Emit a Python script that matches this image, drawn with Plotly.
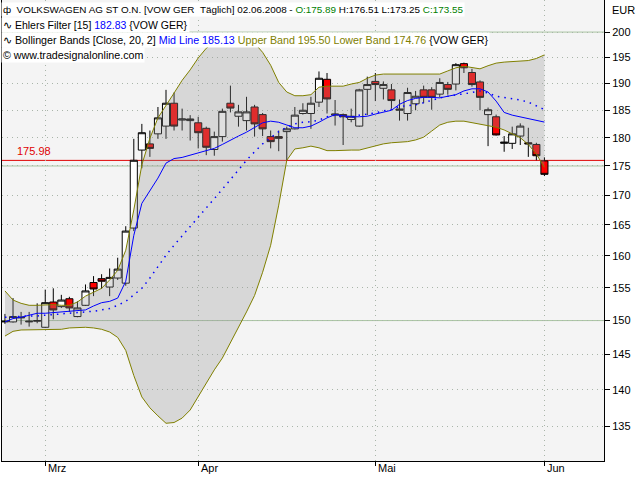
import math
import plotly.graph_objects as go

dates = [
    "2008-02-25", "2008-02-26", "2008-02-27", "2008-02-28", "2008-02-29",
    "2008-03-03", "2008-03-04", "2008-03-05", "2008-03-06", "2008-03-07",
    "2008-03-10", "2008-03-11", "2008-03-12", "2008-03-13", "2008-03-14",
    "2008-03-17", "2008-03-18", "2008-03-19", "2008-03-20",
    "2008-03-25", "2008-03-26", "2008-03-27", "2008-03-28", "2008-03-31",
    "2008-04-01", "2008-04-02", "2008-04-03", "2008-04-04",
    "2008-04-07", "2008-04-08", "2008-04-09", "2008-04-10", "2008-04-11",
    "2008-04-14", "2008-04-15", "2008-04-16", "2008-04-17", "2008-04-18",
    "2008-04-21", "2008-04-22", "2008-04-23", "2008-04-24", "2008-04-25",
    "2008-04-28", "2008-04-29", "2008-04-30",
    "2008-05-02", "2008-05-05", "2008-05-06", "2008-05-07", "2008-05-08", "2008-05-09",
    "2008-05-12", "2008-05-13", "2008-05-14", "2008-05-15", "2008-05-16",
    "2008-05-19", "2008-05-20", "2008-05-21", "2008-05-22", "2008-05-23",
    "2008-05-26", "2008-05-27", "2008-05-28", "2008-05-29", "2008-05-30",
    "2008-06-02",
]

opens = [149.8, 149.8, 150.4, 149.8, 149.9, 149.0, 152.8, 152.1, 153.3, 150.6,
         152.3, 155.8, 156.4, 155.1, 156.5, 155.7, 164.5, 177.8, 178.9, 180.7,
         182.1, 186.3, 183.2, 183.1, 182.7, 181.7, 177.9, 180.2, 186.3, 183.9,
         183.1, 185.6, 184.2, 180.2, 180.2, 181.1, 181.6, 184.4, 184.4, 186.5,
         190.8, 184.1, 184.2, 183.3, 182.1, 188.9, 190.4, 189.1, 188.8, 185.0,
         184.4, 186.2, 188.8, 188.8, 188.0, 189.8, 189.9, 193.8, 192.1, 190.3,
         184.2, 183.8, 179.0, 179.0, 180.3, 179.1, 178.8, 175.89]
highs = [151.0, 153.4, 151.3, 151.3, 152.6, 154.7, 154.9, 153.9, 153.6, 152.9,
         155.5, 156.8, 157.1, 158.0, 159.7, 164.8, 179.8, 182.5, 181.3, 185.6,
         188.8, 188.3, 185.3, 184.1, 183.8, 182.0, 181.1, 185.3, 189.6, 186.0,
         187.5, 186.0, 184.5, 181.3, 181.3, 182.0, 185.6, 186.3, 187.5, 192.3,
         192.0, 186.9, 184.4, 185.3, 189.0, 191.3, 192.0, 190.4, 189.9, 187.0,
         189.2, 188.6, 189.6, 189.3, 191.0, 190.3, 193.9, 194.0, 192.8, 190.6,
         185.5, 184.2, 180.3, 182.0, 182.6, 181.8, 179.1, 176.51]
lows = [149.5, 149.7, 149.4, 149.1, 149.6, 148.9, 150.2, 151.9, 151.3, 150.5,
        152.2, 153.7, 154.8, 153.7, 156.2, 155.3, 164.0, 174.6, 176.6, 179.8,
        179.8, 181.3, 181.3, 179.5, 178.1, 176.9, 176.8, 179.3, 184.6, 182.0,
        181.3, 180.2, 180.3, 178.1, 177.6, 176.0, 181.5, 184.2, 181.6, 185.6,
        184.4, 182.2, 178.7, 182.8, 182.0, 184.1, 186.7, 187.0, 185.3, 183.1,
        183.1, 185.0, 186.3, 185.1, 187.4, 187.9, 188.7, 192.0, 189.4, 185.0,
        178.5, 180.4, 177.5, 178.0, 178.7, 176.6, 176.0, 173.25]
closes = [149.9, 150.6, 150.5, 149.9, 150.0, 152.7, 151.6, 153.1, 151.9, 151.9,
          154.5, 154.8, 156.0, 156.6, 157.9, 164.0, 176.0, 180.9, 178.1, 183.6,
          186.3, 182.1, 183.4, 183.4, 180.9, 178.3, 180.2, 184.8, 185.4, 184.7,
          184.7, 182.5, 181.6, 179.3, 179.9, 181.6, 184.1, 185.0, 186.3, 191.0,
          187.1, 184.3, 183.8, 183.9, 188.8, 189.8, 189.8, 189.8, 186.8, 185.2,
          188.3, 187.6, 187.4, 187.4, 190.2, 188.9, 193.6, 193.0, 189.8, 187.4,
          185.1, 180.5, 179.2, 180.7, 182.1, 178.9, 176.8, 173.55]

ehlers = [149.8, 150.3, 150.5, 150.8, 151.1, 151.1, 151.2, 151.3, 151.4, 151.4,
          151.6, 152.2, 152.7, 152.9, 153.4, 156.0, 163.3, 168.6, 170.8, 172.9,
          175.5, 176.3, 176.5, 176.9, 177.3, 177.8, 178.1, 178.8, 179.6, 180.3,
          181.0, 181.9, 182.7, 183.0, 182.8, 182.3, 181.8, 181.8, 182.1, 182.8,
          183.6, 184.2, 184.0, 183.8, 183.8, 183.9, 184.3, 184.6, 185.0, 186.1,
          186.8, 187.2, 187.4, 187.4, 187.3, 187.6, 187.9, 188.6, 189.0, 189.0,
          188.4, 186.7, 184.6, 184.1, 183.8, 183.5, 183.2, 182.83]
bb_mid = [150.5, 150.6, 150.7, 150.7, 150.7, 150.8, 150.8, 151.0, 151.1, 151.2,
          151.3, 151.4, 151.6, 151.8, 152.3, 152.9, 153.9, 154.9, 156.5, 158.3,
          160.1, 161.7, 163.2, 164.6, 166.3, 167.8, 169.4, 171.0, 172.7, 174.4,
          176.0, 177.5, 178.9, 180.0, 181.1, 181.9, 182.5, 182.8, 182.9, 183.2,
          183.8, 184.1, 183.7, 183.7, 184.1, 184.3, 184.5, 184.9, 185.2, 185.7,
          185.8, 186.0, 186.4, 186.9, 187.3, 187.6, 187.8, 188.1, 188.3, 188.6,
          188.2, 187.6, 187.4, 187.2, 186.9, 186.5, 185.8, 185.13]
bb_upper = [154.5, 153.1, 152.6, 152.3, 152.3, 152.4, 152.4, 152.3, 152.3, 152.8,
            153.7, 154.3, 154.9, 156.2, 157.7, 160.9, 167.5, 175.2, 179.9, 183.6,
            186.0, 188.2, 190.6, 192.6, 194.9, 196.8, 198.0, 198.8, 199.2, 199.2,
            198.8, 197.8, 196.0, 193.5, 190.2, 188.4, 187.7, 187.7, 187.9, 189.3,
            189.5, 189.5, 189.5, 189.9, 190.2, 191.0, 191.6, 191.8, 191.8, 191.8,
            191.8, 191.8, 191.8, 191.8, 191.8, 192.4, 193.0, 193.3, 193.0, 192.8,
            193.4, 193.9, 194.1, 194.2, 194.3, 194.4, 194.8, 195.50]
bb_lower = [147.7, 148.4, 148.6, 148.6, 148.6, 148.6, 148.6, 148.7, 148.9, 149.0,
            149.0, 148.9, 148.7, 148.3, 147.5, 145.6, 142.0, 139.0, 137.5, 136.4,
            135.4, 135.5, 136.1, 137.2, 139.1, 140.9, 142.8, 144.5, 146.7, 148.9,
            151.3, 153.8, 157.4, 161.7, 168.3, 176.0, 178.0, 178.2, 178.5, 178.2,
            177.7, 177.7, 177.8, 177.8, 177.8, 178.2, 178.6, 178.9, 179.1, 179.2,
            179.3, 179.6, 180.1, 181.2, 182.3, 182.8, 183.0, 183.0, 182.7, 182.4,
            182.1, 181.9, 181.4, 180.7, 180.0, 178.8, 177.1, 174.76]

month_ticks = ["2008-03-03", "2008-04-01", "2008-05-02", "2008-06-02"]
month_labels = ["Mrz", "Apr", "Mai", "Jun"]
y_ticks = [135, 140, 145, 150, 155, 160, 165, 170, 175, 180, 185, 190, 195, 200]
ref_lines = [150, 175, 200]
last_marker = 175.98

FONT = "Liberation Sans"
OLIVE = "#808000"
BLUE = "#0000ff"
GREEN = "#008000"
GRID = "#a9b5a9"

fig = go.Figure()

fig.add_trace(go.Scatter(x=dates, y=bb_lower, mode="lines",
                         line=dict(color=OLIVE, width=1), hoverinfo="skip"))
fig.add_trace(go.Scatter(x=dates, y=bb_upper, mode="lines", fill="tonexty",
                         fillcolor="rgba(150,150,150,0.30)",
                         line=dict(color=OLIVE, width=1), hoverinfo="skip"))
fig.add_trace(go.Scatter(x=dates, y=bb_mid, mode="lines",
                         line=dict(color=BLUE, width=1.5, dash="1.5px,5px")))
fig.add_trace(go.Scatter(x=dates, y=ehlers, mode="lines",
                         line=dict(color=BLUE, width=1)))
fig.add_trace(go.Candlestick(
    x=dates, open=opens, high=highs, low=lows, close=closes,
    increasing=dict(fillcolor="#ffffff", line=dict(color="#000000", width=1)),
    decreasing=dict(fillcolor="#ff0000", line=dict(color="#000000", width=1)),
    whiskerwidth=0,
))

for v in ref_lines:
    fig.add_shape(type="line", xref="paper", x0=0, x1=1, yref="y", y0=v, y1=v,
                  line=dict(color="#a8c4a0", width=1), layer="below")
fig.add_shape(type="line", xref="paper", x0=0, x1=1, yref="y",
              y0=last_marker, y1=last_marker,
              line=dict(color="#e00000", width=1), layer="below")

PH = 461.0
PW = 602.0

def py(p):
    return 1 - p / PH

def px(p):
    return (p - 2) / PW

ann = []
ann.append(dict(xref="paper", yref="y", x=px(15), y=math.log10(last_marker),
                text=f"{last_marker:.2f}", showarrow=False, xanchor="left",
                yanchor="bottom", yshift=1,
                font=dict(family=FONT, size=11, color="#e00000")))

for d, lab in zip(month_ticks, month_labels):
    ann.append(dict(xref="x", yref="paper", x=d, y=py(468), text=lab,
                    showarrow=False, xanchor="left", yanchor="middle", xshift=1,
                    font=dict(family=FONT, size=11, color="#000000")))

ann.append(dict(xref="paper", yref="paper", x=px(610), y=py(10), text="EUR",
                showarrow=False, xanchor="left", yanchor="middle",
                font=dict(family=FONT, size=11, color="#000000")))

NB = "\u00a0"
legend_lines = [
    ("\u0444" + NB + NB + "VOLKSWAGEN AG ST O.N. [VOW GER" + NB + NB + "Täglich] 02.06.2008 - "
     f"<span style='color:{GREEN}'>O:{opens[-1]:.2f}</span> "
     f"H:{highs[-1]:.2f} L:{lows[-1]:.2f} "
     f"<span style='color:{GREEN}'>C:{closes[-1]:.2f}</span>", 10, 9.9),
    ("\u223f" + NB + f"Ehlers Filter [15] <span style='color:{BLUE}'>{ehlers[-1]:.2f}</span> {{VOW GER}}", 25, 10.5),
    ("\u223f" + NB + "Bollinger Bands [Close, 20, 2] "
     f"<span style='color:{BLUE}'>Mid Line {bb_mid[-1]:.2f}</span> "
     f"<span style='color:{OLIVE}'>Upper Band {bb_upper[-1]:.2f}</span> "
     f"<span style='color:{OLIVE}'>Lower Band {bb_lower[-1]:.2f}</span> {{VOW GER}}", 40, 10.7),
    ("\u00a9" + NB + "www.tradesignalonline.com", 55, 10.7),
]
for txt, yy, fs in legend_lines:
    ann.append(dict(xref="paper", yref="paper", x=0, y=py(yy), text=txt,
                    showarrow=False, xanchor="left", yanchor="middle",
                    bgcolor="#ffffff", borderpad=1, xshift=-1,
                    font=dict(family=FONT, size=fs, color="#000000")))

fig.update_layout(
    width=640, height=480,
    margin=dict(l=2, r=36, t=0, b=19, pad=0),
    paper_bgcolor="#ffffff",
    plot_bgcolor="#f4f4f4",
    showlegend=False,
    boxgap=0.12,
    boxgroupgap=0,
    annotations=ann,
    font=dict(family=FONT, size=11, color="#000000"),
    xaxis=dict(
        type="category", categoryorder="array", categoryarray=dates,
        range=[-0.37, 74.4], rangeslider=dict(visible=False),
        tickmode="array", tickvals=month_ticks, ticktext=[""] * len(month_ticks),
        showticklabels=False, ticks="outside", ticklen=4, tickcolor="#000000",
        showgrid=True, gridcolor=GRID, griddash="1px,4px", gridwidth=1,
        showline=True, linecolor="#000000", linewidth=1, mirror=True,
        zeroline=False, fixedrange=True,
    ),
    yaxis=dict(
        type="log", side="right",
        range=[math.log10(130.4), math.log10(206.5)],
        tickmode="array", tickvals=y_ticks, ticktext=[str(v) for v in y_ticks],
        ticks="outside", ticklen=5, tickcolor="#000000",
        tickfont=dict(family=FONT, size=11, color="#000000"),
        showgrid=True, gridcolor=GRID, griddash="1px,4px", gridwidth=1,
        showline=True, linecolor="#000000", linewidth=1, mirror=True,
        zeroline=False, fixedrange=True,
    ),
)

fig.write_html(
    "out.html",
    config={"displayModeBar": False},
    post_script="document.body.style.margin='0px';document.body.style.overflow='hidden';",
)
